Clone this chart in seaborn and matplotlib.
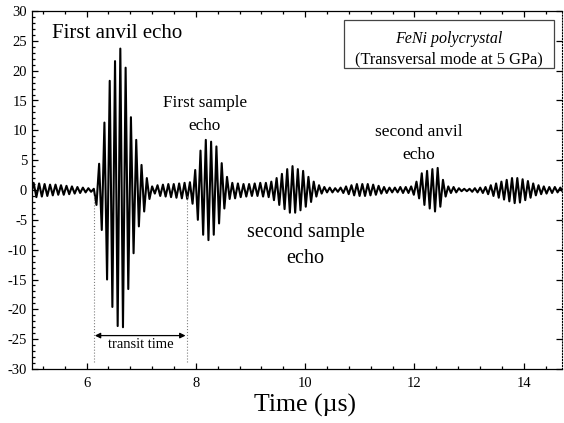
import numpy as np
import pandas as pd
import matplotlib.pyplot as plt
from matplotlib.ticker import MultipleLocator
from matplotlib.patches import Rectangle
import seaborn as sns

HALF_PERIOD = 0.0485  # us between successive extrema of the ~10 MHz trace
T_MIN, T_MAX = 4.98, 14.72

# echo packets: start time (us) and the successive signed extrema
anvil1_start = 6.18
anvil1 = [-2.5, 4.4, -6.7, 11.3, -15.0, 18.3, -19.6, 21.6, -22.8, 23.7, -23.0,
          20.5, -16.6, 12.2, -10.6, 8.4, -6.1, 4.2, -3.6, 2.0, -1.5]
sample1_start = 7.89
sample1 = [1.3, -2.3, 3.35, -5.0, 6.6, -7.5, 8.4, -8.4, 8.1, -7.5, 7.3, -5.6,
           4.5, -3.1, 2.2, -1.5]
sample2_start = 9.38
sample2 = [1.4, -1.7, 2.0, -2.5, 2.7, -3.2, 3.5, -3.8, 4.0, -3.8, 3.5, -3.4,
           3.2, -2.8, 2.2, -2.0, 1.4, -1.1, 0.8, -0.6]
anvil2_start = 11.988
anvil2 = [-0.8, 1.4, -1.4, 2.8, -2.5, 3.2, -3.1, 3.5, -3.6, 3.7, -2.8, 1.7, -1.1, 0.6]
late_start = 13.30
late = [0.5, -0.7, 0.8, -1.0, 1.1, -1.3, 1.4, -1.6, 1.7, -1.9, 2.0, -2.2, 2.0,
        -2.1, 1.8, -1.7, 1.5, -1.3, 1.1, -0.9, 0.8, -0.7]

# background ripple in the gaps (before each echo, and after the last one)
ripple0 = [-0.8, 1.2, -1.2, 1.1, -1.1, 1.0, -1.0, 0.9, -0.9, 0.9, -0.8, 0.8,
           -0.8, 0.7, -0.7, 0.6, -0.6, 0.5, -0.5, 0.4, -0.4, 0.3, -0.3, 0.2]
ripple1 = [0.6, -0.6, 0.8, -1.0, 0.9, -1.1, 1.0, -1.2, 1.0, -1.3, 1.1, -1.4, 1.2, -1.5]
ripple2 = [1.2, -1.4, 1.1, -1.2, 1.0, -1.1, 1.0, -1.0, 1.1, -1.0, 1.2, -1.1, 1.2, -1.2]
ripple3 = [0.5, -0.4, 0.4, -0.4, 0.3, -0.3, 0.4, -0.5, 0.6, -0.7, 0.8, -0.9, 1.0,
           -1.0, 1.0, -1.0, 1.0, -0.9, 0.9, -0.8, 0.7, -0.6, 0.5, -0.5, 0.4, -0.4,
           0.4, -0.4, 0.5, -0.5, 0.5, -0.5, 0.6]
ripple4 = [-0.5, 0.5, -0.4, 0.3, -0.2, 0.2, -0.2, 0.2, -0.3, 0.3, -0.4, 0.4, -0.5]
ripple5 = [0.6, -0.6, 0.5, -0.5, 0.5, -0.4, 0.4, -0.4]


def build_trace():
    echoes = [(anvil1_start, anvil1), (sample1_start, sample1), (sample2_start, sample2),
              (anvil2_start, anvil2), (late_start, late)]
    gaps = [ripple0, ripple1, ripple2, ripple3, ripple4]
    t, v = [], []
    prev = T_MIN
    for (start, vals), gap in zip(echoes, gaps):
        t += list(np.linspace(prev, start - HALF_PERIOD, len(gap)))
        v += gap
        et = start + HALF_PERIOD * np.arange(len(vals))
        t += list(et)
        v += vals
        prev = et[-1] + HALF_PERIOD
    t += list(np.linspace(prev, T_MAX, len(ripple5)))
    v += ripple5
    return pd.DataFrame({"time": t, "amp": v})


sns.set_style("ticks")
plt.rcParams['font.family'] = ['Liberation Serif', 'DejaVu Serif']
plt.rcParams['axes.unicode_minus'] = False
plt.rcParams.update({'text.color': 'black', 'axes.labelcolor': 'black',
                     'xtick.color': 'black', 'ytick.color': 'black'})

df = build_trace()

fig = plt.figure(figsize=(5.64, 4.23), dpi=100)
ax = fig.add_axes([32 / 564, 1 - 369 / 423, 530 / 564, 358 / 423])
sns.lineplot(data=df, x="time", y="amp", ax=ax, color="black", lw=1.5,
             estimator=None, sort=False)

ax.set_xlim(5.0, 14.7)
ax.set_ylim(-30, 30)
ax.xaxis.set_major_locator(MultipleLocator(2))
ax.xaxis.set_minor_locator(MultipleLocator(0.4))
ax.yaxis.set_major_locator(MultipleLocator(5))
ax.yaxis.set_minor_locator(MultipleLocator(1))
ax.tick_params(which='both', direction='in', top=True, right=True, labelsize=10.5,
               color='black', labelcolor='black', width=0.9)
ax.tick_params(which='major', length=4.5)
ax.tick_params(axis='x', which='major', pad=6)
ax.tick_params(which='minor', length=2.5)
ax.tick_params(axis='y', which='minor', right=False)
for s in ax.spines.values():
    s.set_color('black')
    s.set_linewidth(0.9)
ax.spines['right'].set_linestyle(':')
ax.spines['right'].set_linewidth(0.8)

ax.set_xlabel("Time (\u00b5s)", fontsize=18.5, color='black')
ax.xaxis.set_label_coords(0.515, -0.07)
ax.set_ylabel("")

# annotations
ax.text(6.55, 26.3, "First anvil echo", fontsize=15, ha='center', va='center')
ax.text(8.16, 12.6, "First sample\necho", fontsize=12.3, ha='center', va='center',
        linespacing=1.6)
ax.text(10.01, -9.3, "second sample\necho", fontsize=14.5, ha='center', va='center',
        linespacing=1.45)
ax.text(12.08, 7.8, "second anvil\necho", fontsize=12.5, ha='center', va='center',
        linespacing=1.65)

# transit time marker
ax.vlines([6.13, 7.83], -28.8, -1.0, colors='gray', linestyles=':', lw=0.8)
ax.annotate('', xy=(6.15, -24.4), xytext=(7.81, -24.4),
            arrowprops=dict(arrowstyle='<|-|>', color='black', lw=0.9,
                            mutation_scale=8, shrinkA=0, shrinkB=0))
ax.text(6.99, -25.9, "transit time", fontsize=10.5, ha='center', va='center')

# sample box
ax.add_patch(Rectangle((0.589, 0.841), 0.396, 0.134, transform=ax.transAxes,
                       fill=False, ec='#444444', lw=0.9))
ax.text(0.787, 0.922, "FeNi polycrystal", style='italic', fontsize=11.5,
        ha='center', va='center', transform=ax.transAxes)
ax.text(0.787, 0.866, "(Transversal mode at 5 GPa)", fontsize=11.8,
        ha='center', va='center', transform=ax.transAxes)

fig.savefig("out.png", dpi=100)
